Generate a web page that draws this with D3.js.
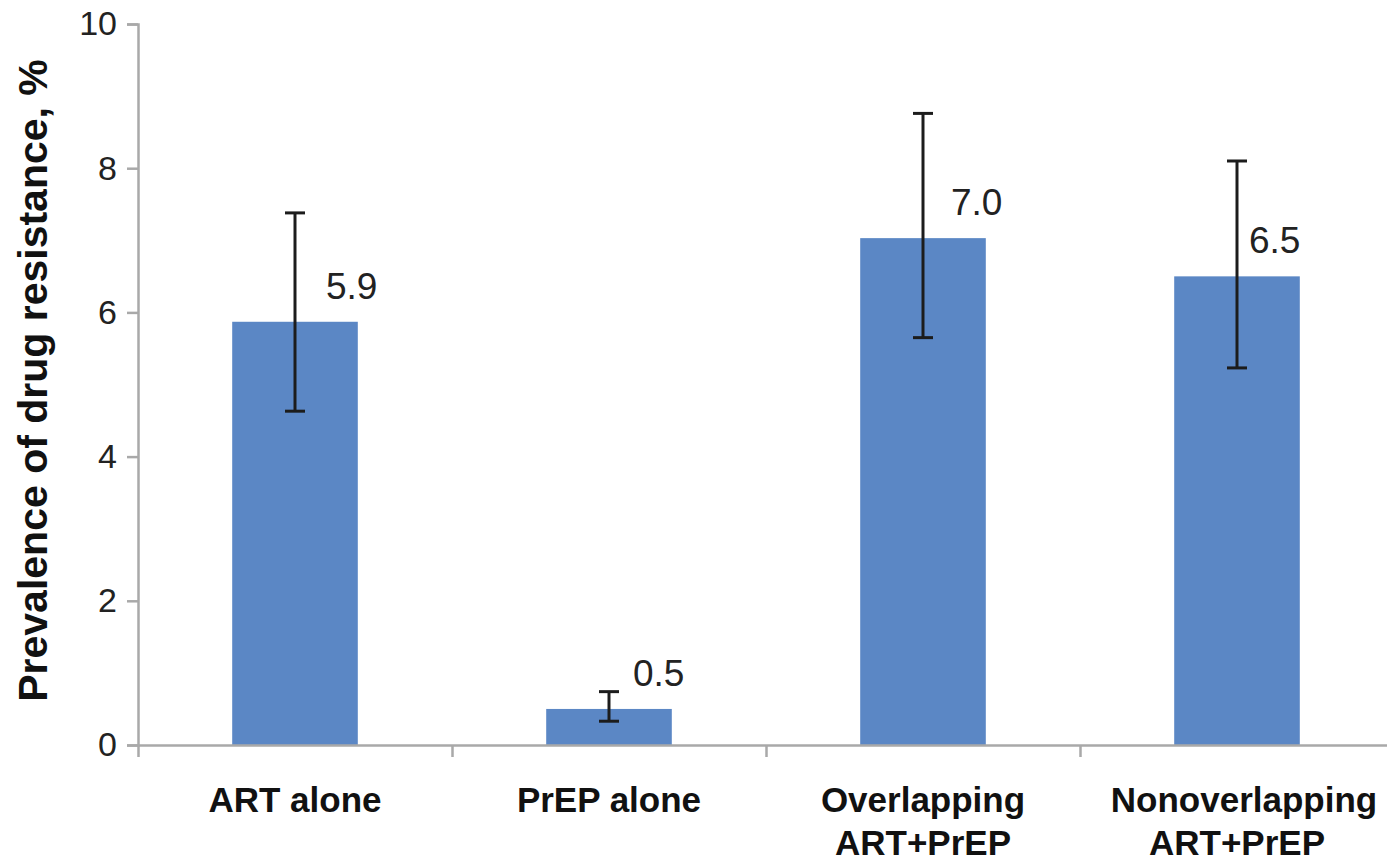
<!DOCTYPE html>
<html>
<head>
<meta charset="utf-8">
<script src="https://cdn.jsdelivr.net/npm/d3@7"></script>
<style>
  html, body { margin: 0; padding: 0; background: #fff; }
  svg { display: block; font-family: "Liberation Sans", Arial, sans-serif; }
</style>
</head>
<body>
<svg id="chart" width="1387" height="861"></svg>
<script>
// ---- data ----
const categories = [["ART alone"], ["PrEP alone"], ["Overlapping", "ART+PrEP"], ["Nonoverlapping", "ART+PrEP"]];
const values = [5.87, 0.50, 7.03, 6.50];
const errLow = [4.63, 0.33, 5.65, 5.23];
const errHigh = [7.38, 0.74, 8.76, 8.10];
const yTicks = [0, 2, 4, 6, 8, 10];
const yTitle = "Prevalence of drug resistance, %";

// ---- layout ----
const plotLeft = 138, plotRight = 1394, plotTop = 24, plotBase = 745;
const labelDx = [31, 24, 28, 12];
const catDy = [0, 0, 0, 0];
const firstLineDx = [0, 0, 0, 7];
const barColor = "#5b87c5";
const axisColor = "#a9a9a9";

const svg = d3.select("#chart");
const keys = categories.map((c, i) => i);

const x = d3.scaleBand().domain(keys).range([plotLeft, plotRight]).paddingInner(0.6).paddingOuter(0.3);
const y = d3.scaleLinear().domain([0, 10]).range([plotBase, plotTop]);
const xb = d3.scaleLinear().domain([0, categories.length]).range([plotLeft, plotRight]);

// bars
svg.append("g").selectAll("rect").data(values).join("rect")
  .attr("x", (d, i) => x(i))
  .attr("width", x.bandwidth())
  .attr("y", d => y(d))
  .attr("height", d => y(0) - y(d))
  .attr("fill", barColor);

// y axis
const gy = svg.append("g").attr("transform", `translate(${plotLeft},0)`)
  .call(d3.axisLeft(y).tickValues(yTicks).tickSize(11).tickPadding(10).tickFormat(d3.format("d")));
gy.select(".domain").attr("stroke", axisColor).attr("stroke-width", 2.5);
gy.selectAll(".tick line").attr("stroke", axisColor).attr("stroke-width", 2.5);
gy.selectAll(".tick text").attr("font-size", 34).attr("fill", "#222").attr("font-family", "Liberation Sans, Arial, sans-serif");

// x axis (category boundaries)
const gx = svg.append("g").attr("transform", `translate(0,${plotBase})`)
  .call(d3.axisBottom(xb).tickValues(d3.range(categories.length + 1)).tickSize(12).tickSizeOuter(0).tickFormat(""));
gx.select(".domain").attr("stroke", axisColor).attr("stroke-width", 2.5);
gx.selectAll(".tick line").attr("stroke", axisColor).attr("stroke-width", 2.5);

// error bars
const eg = svg.append("g").attr("stroke", "#1c1c1c").attr("stroke-width", 3);
keys.forEach(i => {
  const cx = x(i) + x.bandwidth() / 2;
  eg.append("line").attr("x1", cx).attr("x2", cx).attr("y1", y(errLow[i])).attr("y2", y(errHigh[i]));
  eg.append("line").attr("x1", cx - 10).attr("x2", cx + 10).attr("y1", y(errLow[i])).attr("y2", y(errLow[i]));
  eg.append("line").attr("x1", cx - 10).attr("x2", cx + 10).attr("y1", y(errHigh[i])).attr("y2", y(errHigh[i]));
});

// value labels
svg.append("g").selectAll("text").data(values).join("text")
  .attr("x", (d, i) => x(i) + x.bandwidth() / 2 + labelDx[i])
  .attr("y", d => y(d) - 23)
  .attr("font-size", 37)
  .attr("fill", "#222")
  .text(d => d3.format(".1f")(d));

// category labels
const cg = svg.append("g");
categories.forEach((lines, i) => {
  const cx = x(i) + x.bandwidth() / 2;
  const t = cg.append("text")
    .attr("x", cx)
    .attr("y", 812 + catDy[i])
    .attr("text-anchor", "middle")
    .attr("font-size", 35)
    .attr("font-weight", "bold")
    .attr("fill", "#111");
  lines.forEach((l, j) => {
    t.append("tspan").attr("x", cx + (j === 0 ? firstLineDx[i] : 0)).attr("dy", j === 0 ? 0 : 43).text(l);
  });
});

// y title
svg.append("text")
  .attr("transform", `translate(47,${(703 + 58) / 2}) rotate(-90)`)
  .attr("text-anchor", "middle")
  .attr("font-size", 41)
  .attr("font-weight", "bold")
  .attr("fill", "#111")
  .text(yTitle);
</script>
</body>
</html>
